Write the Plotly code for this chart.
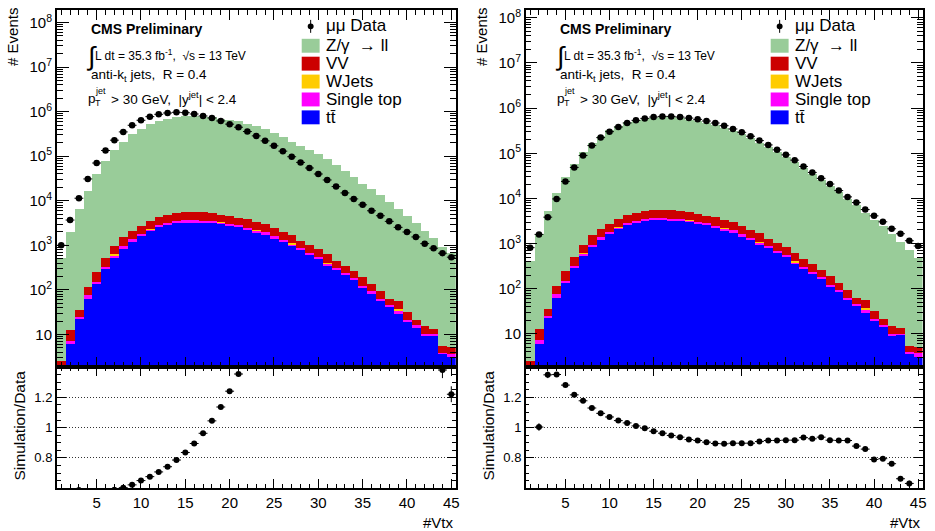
import numpy as np
import plotly.graph_objects as go

# ---------------- data ----------------
bins = list(range(1, 46))

data_left = [1000, 3690, 11400, 30900, 70300, 134600, 229000, 351000, 495000, 641000,
             773000, 872000, 934000, 967000, 950000, 887000, 800000, 722000, 619000, 525000,
             447000, 358000, 286000, 221000, 171000, 130000, 97300, 72700, 54400, 39900,
             29300, 20800, 15000, 11000, 8100, 5960, 4610, 3450, 2530, 1990,
             1540, 1090, 861, 665, 542]
dy_left = [512, 2017, 6675, 16780, 39650, 76100, 134000, 210500, 305900, 414200,
           519400, 612700, 688200, 754700, 788400, 788300, 764500, 748700, 698100, 646400,
           600800, 526200, 467600, 407000, 331600, 270000, 212300, 172700, 138000, 109200,
           84270, 61940, 46150, 33940, 24010, 18070, 13210, 9376, 6445, 4578,
           3188, 2115, 1418, 912, 656]

data_right = [811, 1596, 3840, 9730, 23800, 48500, 89100, 148000, 222000, 301000,
              381000, 468000, 535000, 592000, 634000, 655000, 655000, 634000, 602000, 563000,
              518000, 468000, 408000, 345000, 291000, 238000, 191000, 153000, 119000, 92200,
              70400, 51000, 37600, 27800, 20800, 14900, 10800, 8080, 5660, 4110,
              3030, 2125, 1650, 1155, 883]
dy_right = [410, 1589, 5141, 13020, 30220, 58460, 103900, 165600, 240700, 319300,
            395000, 478200, 536100, 584300, 613200, 625100, 615500, 588800, 549500, 510500,
            464100, 415000, 361000, 306500, 258600, 211500, 171700, 138700, 107900, 83720,
            63930, 47170, 34470, 25790, 18880, 13500, 9787, 7030, 4801, 3215,
            2387, 1604, 1080, 724, 475]

ttbar = [1.2, 6.0, 22.7, 63.7, 133, 292, 542, 861, 1234, 1592,
         2061, 2620, 2900, 3160, 3275, 3275, 3215, 3160, 2950, 2756,
         2530, 2245, 1959, 1797, 1438, 1192, 970, 803, 621, 497,
         353, 273, 211, 163, 112, 83.7, 57.4, 42.9, 28.9, 19.9,
         14.6, 9.0, 9.66, 3.7, 3.1]
single_top = [0.3, 1.3, 1.7, 13, 19, 32, 58, 92, 131, 174,
              240, 284, 315, 345, 355, 355, 350, 345, 340, 300,
              276, 240, 190, 162, 154, 129, 86, 86, 68, 54,
              32, 30, 23, 18, 12, 9, 6.3, 3.9, 6, 1.7,
              1.3, 1.0, 0.34, 0.2, 0.6]
wjets = [0, 0, 0, 0, 0, 0, 31, 0, 0, 0,
         20, 0, 0, 0, 0, 0, 0, 0, 40, 0,
         0, 0, 117, 0, 0, 0, 56, 0, 0, 0,
         20, 0, 0, 0, 0, 0, 0, 0, 2.5, 0,
         0, 0, 0, 0, 0]
diboson = [1.0, 5.6, 10.5, 39, 94, 190, 322, 560, 770, 990,
           1240, 1400, 1560, 1780, 1940, 2030, 1900, 1780, 1570, 1560,
           1350, 1335, 1103, 1047, 851, 706, 626, 387, 332, 281,
           227, 153, 119, 78, 67, 42, 29, 17, 18, 10.5,
           5.7, 5.1, 3.6, 1.6, 1.5]

x_ticks = [5, 10, 15, 20, 25, 30, 35, 40, 45]
ratio_ticks = [0.8, 1, 1.2]
log_ticks = [10 ** k for k in range(1, 9)]
log_ticktext = ["10"] + ["10<sup>%d</sup>" % k for k in range(2, 9)]

COL_DY = "#99CC99"
COL_VV = "#CC0000"
COL_WJ = "#FFCC00"
COL_ST = "#FF00FF"
COL_TT = "#0000FF"

FONT = "Liberation Sans, Arial, Helvetica, sans-serif"
W, H = 935, 531


def px(x):
    return x / W


def py(y):
    return 1 - y / H


panels = [
    dict(data=data_left, dy=dy_left, x0=57, x1=457.7, yr=[0.27, 8.283], dx=0,
         ax=("x", "y", "x2", "y2")),
    dict(data=data_right, dy=dy_right, x0=528, x1=926.5, yr=[0.267, 8.174], dx=471,
         ax=("x3", "y3", "x4", "y4")),
]

fig = go.Figure()
annotations = []
shapes = []

main_top, main_bot, ratio_bot = 7, 366, 488

minor_log = [m * 10 ** k for k in range(0, 9) for m in range(2, 10)]


def ann(text, x, y, size, xanchor="left", yanchor="middle", bold=False, angle=0):
    annotations.append(dict(
        text=("<b>%s</b>" % text) if bold else text, x=px(x), y=py(y), xref="paper", yref="paper",
        xanchor=xanchor, yanchor=yanchor, showarrow=False, textangle=angle,
        font=dict(family=FONT, size=size, color="black")))


for i, p in enumerate(panels):
    xm, ym, xr, yrr = p["ax"]
    data = np.array(p["data"], dtype=float)
    comps = [
        ("tt", ttbar, COL_TT),
        ("Single top", single_top, COL_ST),
        ("WJets", wjets, COL_WJ),
        ("VV", diboson, COL_VV),
        ("DY", p["dy"], COL_DY),
    ]
    for name, vals, col in comps:
        fig.add_trace(go.Bar(x=bins, y=vals, width=1.0, marker=dict(color=col, line=dict(width=0)),
                             xaxis=xm, yaxis=ym, showlegend=False, name=name))
    fig.add_trace(go.Scatter(
        x=bins, y=data, mode="markers", xaxis=xm, yaxis=ym, showlegend=False,
        marker=dict(color="black", size=6.5),
        error_x=dict(type="constant", value=0.5, width=0, thickness=1, color="black"),
        error_y=dict(type="data", array=np.sqrt(data), width=0, thickness=1, color="black"),
    ))
    total = sum(np.array(v, dtype=float) for _, v, _ in comps)
    ratio = total / data
    rerr = ratio / np.sqrt(data)
    fig.add_trace(go.Scatter(
        x=bins, y=ratio, mode="markers", xaxis=xr, yaxis=yrr, showlegend=False,
        marker=dict(color="black", size=6),
        error_x=dict(type="constant", value=0.5, width=0, thickness=1, color="black"),
        error_y=dict(type="data", array=rerr, width=0, thickness=1, color="black"),
    ))

    dom_x = [px(p["x0"]), px(p["x1"])]
    common = dict(showline=True, linecolor="black", linewidth=1.5, mirror="allticks",
                  ticks="inside", tickcolor="black", zeroline=False, showgrid=False,
                  tickfont=dict(family=FONT, size=15, color="black"))
    n = "" if i == 0 else str(2 * i + 1)
    n2 = str(2 * i + 2)
    fig.update_layout(**{
        "xaxis" + n: dict(common, domain=dom_x, range=[0.5, 45.5], anchor="y" + n,
                          tickvals=x_ticks, showticklabels=False, ticklen=10, tickwidth=1,
                          minor=dict(ticks="inside", dtick=1, tick0=0, ticklen=5, tickcolor="black", showgrid=False)),
        "yaxis" + n: dict(common, domain=[py(main_bot), py(main_top)], type="log", range=p["yr"],
                          anchor="x" + n, tickvals=log_ticks, ticktext=log_ticktext, ticklen=12, tickwidth=1,
                          minor=dict(ticks="inside", tickmode="array", tickvals=minor_log, ticklen=6,
                                     tickcolor="black", showgrid=False)),
        "xaxis" + n2: dict(common, domain=dom_x, range=[0.5, 45.5], anchor="y" + n2,
                           tickvals=x_ticks, ticklen=9, tickwidth=1,
                           minor=dict(ticks="inside", dtick=1, tick0=0, ticklen=4, tickcolor="black", showgrid=False)),
        "yaxis" + n2: dict(common, domain=[py(ratio_bot), py(main_bot)], range=[0.6, 1.4],
                           anchor="x" + n2, tickvals=ratio_ticks, ticklen=9, tickwidth=1,
                           tickfont=dict(family=FONT, size=13, color="black"),
                           showgrid=True, gridcolor="#333333", griddash="1px,2px", gridwidth=1,
                           minor=dict(ticks="inside", dtick=0.05, tick0=0.6, ticklen=4,
                                      tickcolor="black", showgrid=False)),
    })

    dx = p["dx"]

    # axis titles
    ann("# Events", 13 + dx, 3, 15, xanchor="center", yanchor="top", angle=-90)
    ann("Simulation/Data", 20 + dx, 425, 15.5, xanchor="center", yanchor="middle", angle=-90)
    ann("#Vtx", p["x1"], 522, 15, xanchor="right")

    # CMS labels
    ann("CMS Preliminary", 89 + dx, 26, 14, bold=True)
    ann("\u222B", 84.5 + dx, 53, 26)
    ann("L dt = 35.3 fb<sup>-1</sup>,  \u221As = 13 TeV", 93 + dx, 52, 12)
    ann("anti-k<sub>t</sub> jets,  R = 0.4", 89 + dx, 73, 13.5)
    ann("p", 86 + dx, 96, 13.5)
    ann("jet", 93 + dx, 89, 9)
    ann("T", 93 + dx, 101, 9)
    ann("&gt; 30 GeV,  |y<sup>jet</sup>| &lt; 2.4", 109 + dx, 96, 13.5)

    # legend
    rows = [("Z/\u03B3  \u2192 ll", COL_DY, 43), ("VV", COL_VV, 61), ("WJets", COL_WJ, 79),
            ("Single top", COL_ST, 97), ("t\u0074\u0304", COL_TT, 115)]
    for label, col, yy in rows:
        shapes.append(dict(type="rect", xref="paper", yref="paper",
                           x0=px(303 + dx), x1=px(321 + dx), y0=py(yy + 7), y1=py(yy - 7),
                           fillcolor=col, line=dict(width=0)))
        ann(label, 325 + dx, yy, 17)
    # data legend marker
    shapes.append(dict(type="line", xref="paper", yref="paper", x0=px(312 + dx), x1=px(312 + dx),
                       y0=py(17), y1=py(30), line=dict(color="black", width=1)))
    shapes.append(dict(type="circle", xref="paper", yref="paper", x0=px(309 + dx), x1=px(315 + dx),
                       y0=py(26.5), y1=py(20.5), fillcolor="black", line=dict(color="black", width=0)))
    ann("\u03BC\u03BC Data", 325 + dx, 23, 17)

fig.update_layout(
    width=W, height=H, margin=dict(l=0, r=0, t=0, b=0),
    paper_bgcolor="white", plot_bgcolor="white",
    barmode="stack", bargap=0, showlegend=False,
    annotations=annotations, shapes=shapes,
    font=dict(family=FONT, color="black"),
)

fig.write_html("out.html", config={"displayModeBar": False})
